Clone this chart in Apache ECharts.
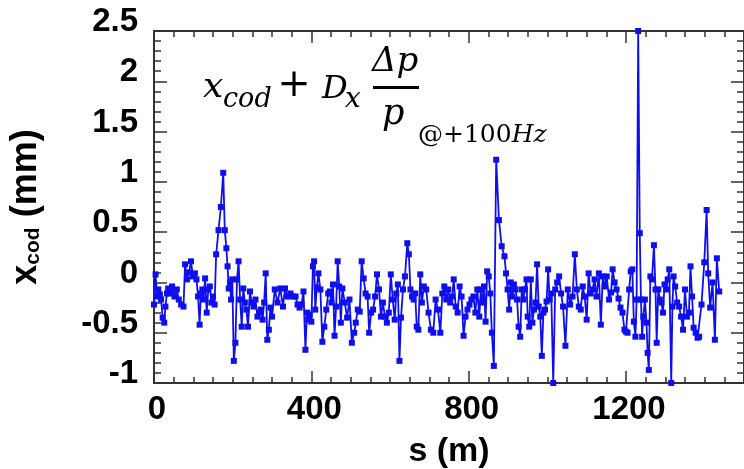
<!DOCTYPE html>
<html><head><meta charset="utf-8">
<script src="https://cdn.jsdelivr.net/npm/echarts@6/dist/echarts.min.js"></script>
<style>html,body{margin:0;padding:0;background:#fff}#c{width:744px;height:469px}</style>
</head><body><div id="c"></div>
<script>
// s positions (m) and x_cod values (mm), in four stretches of the ring
const sA = [0,4,8,11,15,18,22,26,29,33,36,41,46,52,58,63,69,75,79,84,89,94,99,104,108,112,116,119,123,126,130,134,138,142,146,150,154,158,164,170,176,180,184,187,190,193,196,199,203,207,211,215,219,223,227,231,235,239,244,248,253,258,263,268,272,276,280,284,288,292,296,300,307,314,321,328,333,340,347,354];
const xA = [-0.22,0.08,-0.14,-0.07,-0.12,-0.17,-0.35,-0.40,-0.24,-0.11,-0.06,-0.11,-0.04,-0.14,-0.07,-0.17,-0.22,-0.24,0.18,0.03,0.10,0.21,0.06,0.09,0.03,-0.14,-0.42,-0.11,-0.07,-0.17,0.04,-0.30,-0.07,-0.04,-0.20,-0.14,-0.22,0.28,0.52,0.75,1.09,0.52,0.34,0.16,-0.06,0.0,-0.17,0.03,-0.78,-0.60,0.03,0.21,-0.17,-0.44,-0.06,-0.20,-0.27,-0.44,-0.09,-0.20,-0.24,-0.17,-0.34,-0.30,-0.27,-0.37,-0.20,0.09,-0.57,-0.47,-0.25,-0.34,-0.07,-0.20,-0.06,-0.24,-0.06,-0.14,-0.11,-0.14];
const sB = [360,365,370,375,380,385,389,392,396,400,404,407,410,414,418,423,428,433,438,443,447,451,455,459,463,467,471,475,479,485,491,497,503,509,513,518,523,528,533,538,543,547,552,557,562,567,572,577,582,587,592,597,602,607,612,616,620,624,628,633,638,644,648,652,656,660,664,668,672,677,681,686,692,698,704,710,716,722,728];
const xB = [-0.14,-0.22,-0.25,-0.22,-0.09,-0.67,-0.30,-0.37,-0.32,-0.39,0.16,0.21,-0.27,-0.05,0.09,-0.07,-0.59,-0.44,-0.27,-0.11,-0.09,-0.20,-0.02,-0.53,-0.24,0.21,-0.04,-0.40,-0.06,-0.20,-0.35,-0.17,-0.60,-0.50,-0.40,-0.27,-0.29,0.21,0.04,-0.11,-0.14,-0.50,-0.30,-0.27,-0.14,0.08,-0.07,-0.34,-0.20,-0.34,-0.40,-0.30,0.08,-0.17,-0.37,-0.11,-0.02,-0.78,-0.35,-0.07,0.06,0.39,0.28,-0.07,-0.14,-0.17,-0.11,-0.44,-0.47,0.08,-0.20,-0.04,-0.07,-0.30,-0.47,-0.50,-0.17,-0.27,-0.50];
const sC = [733,738,743,748,753,758,762,767,772,777,782,787,792,797,802,807,812,817,822,827,831,835,839,843,847,851,855,859,864,870,877,884,891,895,899,903,907,911,915,919,923,927,931,935,939,943,947,950,954,958,962,966,970,974,978,982,986,990,994,998,1002,1006,1010,1015,1020,1025,1030,1035,1040,1046,1052,1058,1064,1070,1075,1080,1085,1090,1095];
const xC = [-0.11,-0.04,-0.17,-0.07,-0.20,-0.14,0.03,-0.24,-0.30,-0.04,-0.14,-0.53,-0.34,-0.27,-0.22,-0.17,-0.14,-0.30,-0.07,-0.34,-0.07,-0.20,-0.04,-0.39,0.11,0.06,-0.11,-0.50,-0.83,1.22,0.62,0.36,0.26,0.09,-0.07,-0.27,0.0,-0.14,-0.02,-0.07,-0.17,-0.44,-0.54,-0.07,-0.17,-0.07,0.03,-0.34,-0.44,0.03,-0.40,-0.27,-0.20,0.18,-0.24,-0.34,-0.73,-0.30,-0.27,-0.19,0.13,-0.17,-0.11,-1.0,-0.07,0.0,0.06,-0.11,-0.24,-0.63,-0.07,-0.22,-0.14,0.28,-0.07,-0.24,-0.27,-0.04,-0.14];
const sD = [1100,1105,1110,1115,1120,1125,1131,1136,1141,1146,1151,1157,1162,1166,1171,1176,1181,1186,1191,1196,1200,1204,1208,1212,1216,1220,1224,1227,1231,1235,1238,1241,1244,1248,1252,1255,1258,1262,1266,1271,1275,1278,1282,1286,1290,1294,1298,1302,1306,1310,1315,1318,1321,1325,1330,1335,1340,1345,1350,1355,1360,1364,1368,1372,1377,1382,1386,1392,1399,1405,1409,1414,1420,1426,1431,1437];
const xD = [-0.37,0.09,-0.11,-0.07,0.03,-0.14,0.09,-0.42,0.06,-0.04,0.06,-0.17,-0.10,0.13,0.0,-0.07,-0.16,-0.25,-0.30,-0.47,-0.49,-0.50,-0.07,0.11,0.13,-0.39,-0.54,-0.17,2.5,0.49,-0.17,-0.54,-0.34,-0.17,-0.40,-0.70,-0.87,0.06,0.03,0.37,-0.07,-0.60,-0.07,-0.17,-0.20,-0.30,-0.02,-0.07,0.03,0.13,-1.0,-0.24,0.06,-0.04,-0.20,-0.24,-0.34,-0.47,-0.07,-0.34,-0.30,0.16,-0.14,-0.45,-0.50,-0.55,-0.54,-0.22,0.20,0.72,0.09,-0.25,0.0,-0.57,0.24,-0.09];

const xTicksMajor = [0,400,800,1200];
const yTickLabels = ['-1','-0.5','0','0.5','1','1.5','2','2.5'];

const sAll = sA.concat(sB, sC, sD);
const vAll = xA.concat(xB, xC, xD);
const data = sAll.map((s, i) => [s, vAll[i]]);

const AX = '#333';
const FONT = '"Liberation Sans", Arial, sans-serif';
const SERIF = '"DejaVu Serif", serif';

function xAx(pos, interval, len, opts) {
  return Object.assign({
    type: 'value', position: pos, min: 0, max: 1500, interval: interval,
    axisLine: { show: true, onZero: false, lineStyle: { color: AX, width: 2 } },
    axisTick: { show: true, inside: true, length: len, lineStyle: { color: AX, width: 1.5 } },
    axisLabel: { show: false }, splitLine: { show: false }
  }, opts || {});
}
function yAx(pos, interval, len, opts) {
  return Object.assign({
    type: 'value', position: pos, min: -1, max: 2.5, interval: interval,
    axisLine: { show: true, onZero: false, lineStyle: { color: AX, width: 2 } },
    axisTick: { show: true, inside: true, length: len, lineStyle: { color: AX, width: 1.5 } },
    axisLabel: { show: false }, splitLine: { show: false }
  }, opts || {});
}

const chart = echarts.init(document.getElementById('c'), null, { renderer: 'canvas' });
chart.setOption({
  animation: false,
  backgroundColor: '#fff',
  grid: { left: 154, top: 31, width: 590, height: 352, containLabel: false, outerBoundsMode: 'none' },
  xAxis: [
    xAx('bottom', 400, 12, {
      axisLabel: { show: true, color: '#000', fontFamily: FONT, fontWeight: 'bold', fontSize: 33, margin: 10, padding: [0,0,0,6],
        formatter: v => xTicksMajor.indexOf(v) >= 0 ? String(v) : '' },
      name: 's (m)', nameLocation: 'middle', nameGap: 52,
      nameTextStyle: { color: '#000', fontFamily: FONT, fontWeight: 'bold', fontSize: 34 }
    }),
    xAx('bottom', 50, 6),
    xAx('top', 400, 12),
    xAx('top', 50, 6)
  ],
  yAxis: [
    yAx('left', 0.5, 13, {
      axisLabel: { show: true, color: '#000', fontFamily: FONT, fontWeight: 'bold', fontSize: 33, margin: 16,
        verticalAlign: 'bottom', lineHeight: 18,
        formatter: v => { const t = String(Math.round(v*10)/10); return yTickLabels.indexOf(t) >= 0 ? t : ''; } },
      name: '{m|x}{s|cod}{m| (mm)}', nameLocation: 'middle', nameGap: 110, nameRotate: 90,
      nameTextStyle: { color: '#000', fontFamily: FONT, fontWeight: 'bold',
        rich: {
          m: { fontFamily: FONT, fontWeight: 'bold', fontSize: 36, color: '#000' },
          s: { fontFamily: FONT, fontWeight: 'bold', fontSize: 21, color: '#000', verticalAlign: 'bottom' }
        } }
    }),
    yAx('left', 0.1, 7),
    yAx('right', 0.5, 13),
    yAx('right', 0.1, 7)
  ],
  series: [{
    type: 'line', xAxisIndex: 0, yAxisIndex: 0, data: data,
    symbol: 'rect', symbolSize: 6, showSymbol: true,
    lineStyle: { color: '#0f0fee', width: 1.8 },
    itemStyle: { color: '#0f0fee' },
    clip: true
  }],
  graphic: [
    { type: 'text', style: { text: 'x', x: 203, y: 88, font: 'italic 36px ' + SERIF, fill: '#000', textVerticalAlign: 'middle' } },
    { type: 'text', style: { text: 'cod', x: 223, y: 100, font: 'italic 27px ' + SERIF, fill: '#000', textVerticalAlign: 'middle' } },
    { type: 'text', style: { text: '+', x: 294, y: 86, font: '40px ' + SERIF, fill: '#000', textAlign: 'center', textVerticalAlign: 'middle' } },
    { type: 'text', style: { text: 'D', x: 322, y: 90, font: 'italic 32px ' + SERIF, fill: '#000', textVerticalAlign: 'middle' } },
    { type: 'text', style: { text: 'x', x: 345, y: 100, font: 'italic 28px ' + SERIF, fill: '#000', textVerticalAlign: 'middle' } },
    { type: 'text', style: { text: 'Δp', x: 372, y: 62, font: 'italic 34px ' + SERIF, fill: '#000', textVerticalAlign: 'middle' } },
    { type: 'rect', shape: { x: 373, y: 86, width: 46, height: 3 }, style: { fill: '#000' } },
    { type: 'text', style: { text: 'p', x: 382, y: 115, font: 'italic 35px ' + SERIF, fill: '#000', textVerticalAlign: 'middle' } },
    { type: 'text', style: { text: '{u|@+100}{i|Hz}', x: 418, y: 135, textVerticalAlign: 'middle',
      rich: { u: { font: '25px ' + SERIF, fill: '#000' }, i: { font: 'italic 25px ' + SERIF, fill: '#000' } } } }
  ]
});
</script></body></html>
